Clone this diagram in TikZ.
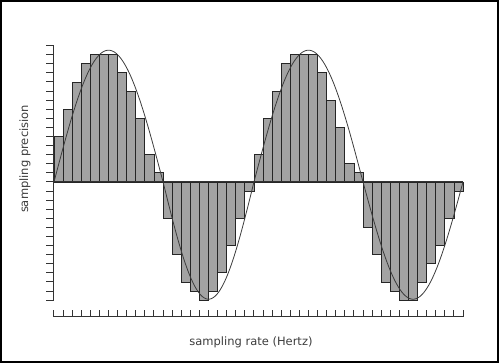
\documentclass[tikz,border=0pt]{standalone}
\usepackage{fontspec}
\setmainfont{DejaVu Sans}
\usetikzlibrary{positioning}
\definecolor{bargray}{RGB}{163,163,163}
\definecolor{inkgray}{RGB}{60,60,60}

\begin{document}
\begin{tikzpicture}[x=9.09pt,y=9.09pt,line join=miter]
\useasboundingbox (-5.94,-20.02) rectangle (49.07,20.02);
\draw[line width=2pt] (-5.83,-19.8) rectangle (48.84,19.91);
\foreach \i/\h in {1/5,2/8,3/11,4/13,5/14,6/14,7/14,8/12,9/10,10/7,11/3,12/1,13/-4,14/-8,15/-11,16/-12,17/-13,18/-12,19/-10,20/-7,21/-4,22/-1,23/3,24/7,25/10,26/13,27/14,28/14,29/14,30/12,31/9,32/6,33/2,34/1,35/-5,36/-8,37/-11,38/-12,39/-13,40/-13,41/-11,42/-9,43/-7,44/-4,45/-1}{\filldraw[fill=bargray,draw=black!85,line width=0.8pt] (\i-1,0) rectangle (\i,\h);}
\draw[inkgray,line width=0.8pt] plot[domain=0:12,samples=50,smooth] (\x,{14.5*sin(15*\x)});
\draw[inkgray,line width=0.8pt] plot[domain=12:22,samples=50,smooth] (\x,{-12.9*sin(18*(\x-12))});
\draw[inkgray,line width=0.8pt] plot[domain=22:34,samples=50,smooth] (\x,{14.5*sin(15*(\x-22))});
\draw[inkgray,line width=0.8pt] plot[domain=34:45,samples=50,smooth] (\x,{-12.9*sin(180/11*(\x-34))});
\draw[black!80,line width=1pt] (0,-13)--(0,15) (0,0)--(45,0);
\foreach \y in {-13,...,15}{\draw[black!80,line width=1pt] (0,\y)--(-0.88,\y);}
\draw[black!80,line width=1pt] (0,-14.85)--(45,-14.85);
\foreach \x in {0,...,45}{\draw[black!80,line width=1pt] (\x,-14.85)--(\x,-14.08);}
\node[rotate=90,font=\fontsize{11.5}{13}\selectfont,text=inkgray] (ylab) at (-3.19,2.53){sampling precision};
\node[font=\fontsize{11.5}{13}\selectfont,text=inkgray] (xlab) at (21.67,-17.6){sampling rate (Hertz)};
\end{tikzpicture}
\end{document}
